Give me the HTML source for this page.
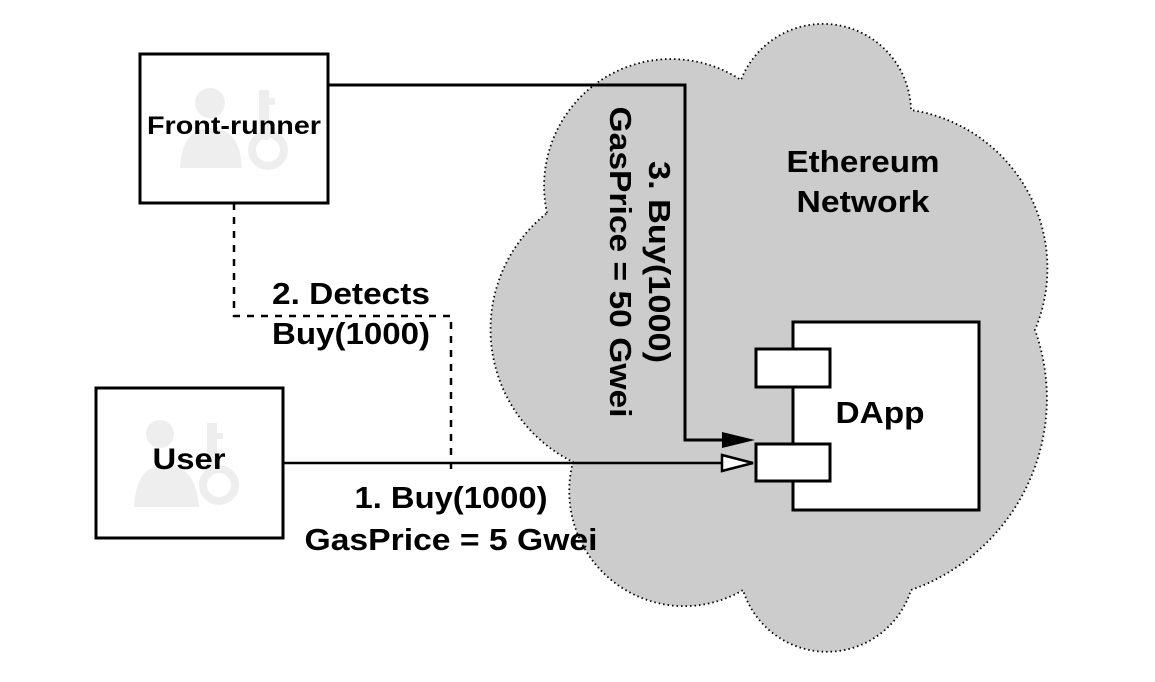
<!DOCTYPE html>
<html><head><meta charset="utf-8"><style>
html,body{margin:0;padding:0;background:#fff;}
svg text{font-family:"Liberation Sans",sans-serif;font-weight:bold;fill:#000;}
</style></head><body>
<svg width="1155" height="677" viewBox="0 0 1155 677" xmlns="http://www.w3.org/2000/svg">
<path d="M547,213 A127,127 0 0 1 741,80 A88,88 0 0 1 911,110 A160,160 0 0 1 1035,330 A203,203 0 0 1 911,590 A88,88 0 0 1 743,590 A115,115 0 0 1 573,462 A148,148 0 0 1 547,213 Z" fill="#cccccc" stroke="#000" stroke-width="1.8" stroke-dasharray="1.5 3"/>
<!-- Front-runner box -->
<rect x="140" y="54" width="188" height="149" fill="#fff" stroke="#000" stroke-width="3"/>
<g fill="#eeeeee">
<circle cx="210" cy="103" r="15"/>
<path d="M180,168 Q182,128 211,128 Q240,128 242,168 Z"/>
<rect x="259" y="90" width="10" height="50"/><rect x="263" y="98" width="12" height="7"/>
<circle cx="268" cy="150" r="16" fill="none" stroke="#eeeeee" stroke-width="8"/>
</g>
<text x="234" y="134" font-size="25" text-anchor="middle" textLength="174" lengthAdjust="spacingAndGlyphs">Front-runner</text>
<!-- User box -->
<rect x="96" y="388" width="187" height="150" fill="#fff" stroke="#000" stroke-width="3"/>
<g fill="#eeeeee">
<circle cx="160" cy="434" r="14"/>
<path d="M134,507 Q136,465 165,465 Q196,465 199,507 Z"/>
<rect x="207" y="423" width="10" height="50"/><rect x="211" y="433" width="12" height="6"/>
<circle cx="219" cy="485" r="16" fill="none" stroke="#eeeeee" stroke-width="8"/>
</g>
<text x="189" y="469" font-size="30" text-anchor="middle" textLength="73" lengthAdjust="spacingAndGlyphs">User</text>
<!-- dashed -->
<path d="M234,203 V316 H451 V470" fill="none" stroke="#000" stroke-width="2.5" stroke-dasharray="7 7"/>
<!-- connectors -->
<path d="M328,85 H685 V440 H725" fill="none" stroke="#000" stroke-width="3"/>
<polygon points="722,432 755,440 722,448" fill="#000"/>
<path d="M283,463 H722" fill="none" stroke="#000" stroke-width="2.5"/>
<polygon points="722,455 753,463 722,471" fill="#fff" stroke="#000" stroke-width="2.5"/>
<!-- DApp -->
<rect x="793" y="322" width="186" height="188" fill="#fff" stroke="#000" stroke-width="3"/>
<rect x="756" y="349" width="74" height="38" fill="#fff" stroke="#000" stroke-width="3"/>
<rect x="756" y="444" width="74" height="37" fill="#fff" stroke="#000" stroke-width="3"/>
<text x="880" y="423" font-size="31" text-anchor="middle" textLength="89" lengthAdjust="spacingAndGlyphs">DApp</text>
<!-- labels -->
<text x="863" y="172" font-size="31" text-anchor="middle" textLength="153" lengthAdjust="spacingAndGlyphs">Ethereum</text>
<text x="863" y="212" font-size="31" text-anchor="middle" textLength="133" lengthAdjust="spacingAndGlyphs">Network</text>
<text x="351" y="304" font-size="31" text-anchor="middle" textLength="158" lengthAdjust="spacingAndGlyphs">2. Detects</text>
<text x="351" y="344" font-size="31" text-anchor="middle" textLength="158" lengthAdjust="spacingAndGlyphs">Buy(1000)</text>
<text x="451" y="508" font-size="31" text-anchor="middle" textLength="193" lengthAdjust="spacingAndGlyphs">1. Buy(1000)</text>
<text x="451" y="550" font-size="31" text-anchor="middle" textLength="293" lengthAdjust="spacingAndGlyphs">GasPrice = 5 Gwei</text>
<g transform="translate(641,262) rotate(90)">
<text x="0" y="-8" font-size="31" text-anchor="middle" textLength="202" lengthAdjust="spacingAndGlyphs">3. Buy(1000)</text>
<text x="0" y="31" font-size="31" text-anchor="middle" textLength="311" lengthAdjust="spacingAndGlyphs">GasPrice = 50 Gwei</text>
</g>
</svg>
</body></html>
